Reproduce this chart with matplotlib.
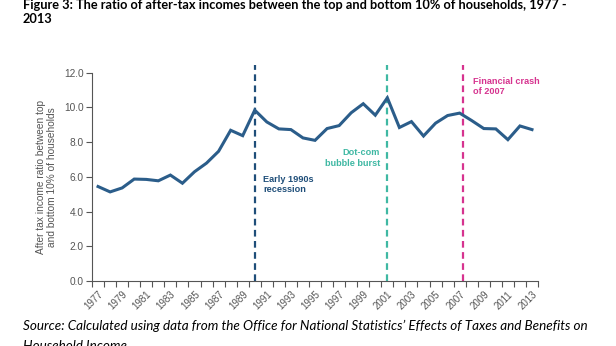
import matplotlib
matplotlib.use("Agg")
import matplotlib.pyplot as plt

years = list(range(1977, 2014))
ratio = [5.44, 5.13, 5.36, 5.87, 5.85, 5.77, 6.10, 5.63, 6.29, 6.79,
         7.47, 8.68, 8.37, 9.84, 9.16, 8.76, 8.72, 8.24, 8.10, 8.78,
         8.95, 9.69, 10.21, 9.55, 10.55, 8.84, 9.18, 8.35, 9.09, 9.53,
         9.67, 9.24, 8.78, 8.76, 8.14, 8.93, 8.72]
events = [1990, 2001, 2007]
event_labels = ["Early 1990s\nrecession", "Dot-com\nbubble burst", "Financial crash\nof 2007"]
event_colors = ["#1f4e79", "#3fb8a3", "#d6338f"]

title_1 = "Figure 3: The ratio of after-tax incomes between the top and bottom 10% of households, 1977 -"
title_2 = "2013"
source_1 = ("Source: Calculated using data from the Office for National Statistics\u2019 "
            "Effects of Taxes and Benefits on")
source_2 = "Household Income"

fig = plt.figure(figsize=(6.16, 3.46), dpi=100)
ax = fig.add_axes([0.1494, 0.188, 0.7240, 0.602])

x = list(range(len(years)))
ax.plot(x, ratio, color="#2b5d8a", lw=2.2, solid_joinstyle="miter", zorder=3)

# event lines, a bit taller than the axes
offsets = [0, 0, 0.3]
for yr, off, c in zip(events, offsets, event_colors):
    xi = years.index(yr) + off
    ax.plot([xi, xi], [0, 12.45], color=c, lw=1.6, ls=(0, (3, 2)), clip_on=False, zorder=2)

ax.text(years.index(1990) + 0.7, 6.1, event_labels[0], color=event_colors[0],
        fontsize=6.6, fontweight="bold", family="Liberation Sans", va="top", ha="left",
        linespacing=1.2)
ax.text(years.index(2001) - 0.6, 7.65, event_labels[1], color=event_colors[1],
        fontsize=6.6, fontweight="bold", family="Liberation Sans", va="top", ha="right",
        linespacing=1.2)
ax.text(years.index(2007) + 1.1, 11.75, event_labels[2], color=event_colors[2],
        fontsize=6.6, fontweight="bold", family="Liberation Sans", va="top", ha="left",
        linespacing=1.2)

ax.set_xlim(-0.5, len(years) - 0.5)
ax.set_ylim(0, 12)
ax.set_yticks(range(0, 13, 2))
ax.set_yticklabels([f"{v:.1f}" for v in range(0, 13, 2)])
ax.set_xticks(x[::2])
ax.set_xticklabels([str(y) for y in years[::2]], rotation=45, ha="right", rotation_mode="anchor")
ax.set_xticks([i - 0.5 for i in range(len(years) + 1)], minor=True)
ax.tick_params(axis="x", which="major", length=0, pad=6, labelsize=7, labelcolor="#555555")
ax.tick_params(axis="x", which="minor", length=4, width=0.8, color="#555555")
ax.tick_params(axis="y", length=4, width=0.8, color="#555555", labelsize=7.3, labelcolor="#555555", pad=2)
for lab in ax.get_xticklabels() + ax.get_yticklabels():
    lab.set_family("Liberation Sans")

for s in ["top", "right"]:
    ax.spines[s].set_visible(False)
for s in ["left", "bottom"]:
    ax.spines[s].set_color("#555555")
    ax.spines[s].set_linewidth(0.8)

ax.set_ylabel("After tax income ratio between top\nand bottom 10% of households",
              fontsize=7.3, color="#555555", family="Liberation Sans", labelpad=5,
              linespacing=1.1)

fig.text(0.037, 1.0 - 5 / 346, title_1, fontsize=9.2, fontweight="bold", family="Lato",
         va="center", ha="left")
fig.text(0.037, 1.0 - 19 / 346, title_2, fontsize=9.2, fontweight="bold", family="Lato",
         va="center", ha="left")
fig.text(0.037, 1.0 - 326 / 346, source_1, fontsize=9.7, style="italic", family="Lato",
         va="center", ha="left")
fig.text(0.037, 1.0 - 346 / 346, source_2, fontsize=9.7, style="italic", family="Lato",
         va="center", ha="left")

fig.savefig("out.png", dpi=100)
